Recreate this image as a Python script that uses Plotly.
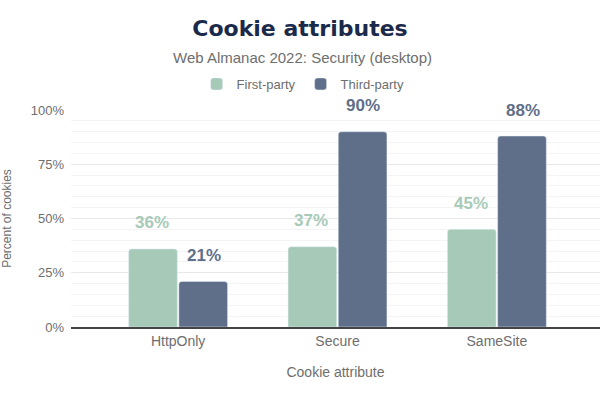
import plotly.graph_objects as go

categories = ["HttpOnly", "Secure", "SameSite"]
first_party = [0.36, 0.37, 0.45]
third_party = [0.21, 0.90, 0.88]
series_names = ["First-party", "Third-party"]
y_ticks = [0, 0.25, 0.5, 0.75, 1.0]
y_tick_labels = ["0%", "25%", "50%", "75%", "100%"]

GREEN = "#a7cab8"
BLUE = "#5f6f8a"
GRAY = "#6e6e6e"

W, H = 600, 400
M_L, M_R, M_T, M_B = 69, 0, 110, 73
plot_h = H - M_T - M_B
plot_w = W - M_L - M_R

def py(p):
    return 1 + (M_T - p) / plot_h

def px(p):
    return (p - M_L) / plot_w

fig = go.Figure()
fig.add_trace(go.Bar(name=series_names[0], x=categories, y=first_party, marker_color=GREEN))
fig.add_trace(go.Bar(name=series_names[1], x=categories, y=third_party, marker_color=BLUE))

annotations = []
for vals, color, shift in [(first_party, GREEN, -26), (third_party, BLUE, 26)]:
    for c, v in zip(categories, vals):
        annotations.append(dict(
            x=c, y=v, xref="x", yref="y", text=f"{round(v*100)}%", showarrow=False,
            xshift=shift, yshift=26, yanchor="middle",
            font=dict(family="Liberation Sans, Arial, sans-serif", size=17, color=color, weight="bold"),
        ))

annotations.append(dict(
    x=px(301), xref="paper", y=py(58), yref="paper", yanchor="middle", showarrow=False,
    text="Web Almanac 2022: Security (desktop)", xanchor="center",
    font=dict(family="Liberation Sans, Arial, sans-serif", size=15, color=GRAY),
))

fig.update_layout(
    width=W, height=H,
    margin=dict(l=M_L, r=M_R, t=M_T, b=M_B),
    paper_bgcolor="white", plot_bgcolor="white",
    barmode="group", bargap=0.37, bargroupgap=0.03, barcornerradius=3,
    title=dict(text="Cookie attributes", x=0.5, xanchor="center", y=1 - 28 / H, yanchor="middle",
               yref="container",
               font=dict(family="DejaVu Sans, sans-serif", size=22, color="#1b2a4a", weight="bold")),
    legend=dict(orientation="h", x=px(302), xanchor="center", y=py(84), yanchor="middle",
                font=dict(family="Liberation Sans, Arial, sans-serif", size=13, color=GRAY),
                itemwidth=30, bgcolor="rgba(0,0,0,0)"),
    annotations=annotations,
    xaxis=dict(range=[-0.672, 2.647], showgrid=False, ticks="",
               tickfont=dict(family="Liberation Sans, Arial, sans-serif", size=14, color=GRAY),
               title=dict(text="Cookie attribute", standoff=20,
                          font=dict(family="Liberation Sans, Arial, sans-serif", size=14, color=GRAY)),
               showline=True, linecolor="#444444", linewidth=1.5),
    yaxis=dict(range=[0, 1], tickvals=y_ticks, ticktext=y_tick_labels,
               showgrid=True, gridcolor="#e8e8e8", gridwidth=1, zeroline=False,
               tickfont=dict(family="Liberation Sans, Arial, sans-serif", size=13, color=GRAY),
               ticks="", ticklabelstandoff=6,
               minor=dict(dtick=0.05, showgrid=True, gridcolor="#f4f4f4", gridwidth=1),
               title=dict(text="Percent of cookies", standoff=22,
                          font=dict(family="Liberation Sans, Arial, sans-serif", size=12, color=GRAY))),
)

fig.write_html("out.html")
